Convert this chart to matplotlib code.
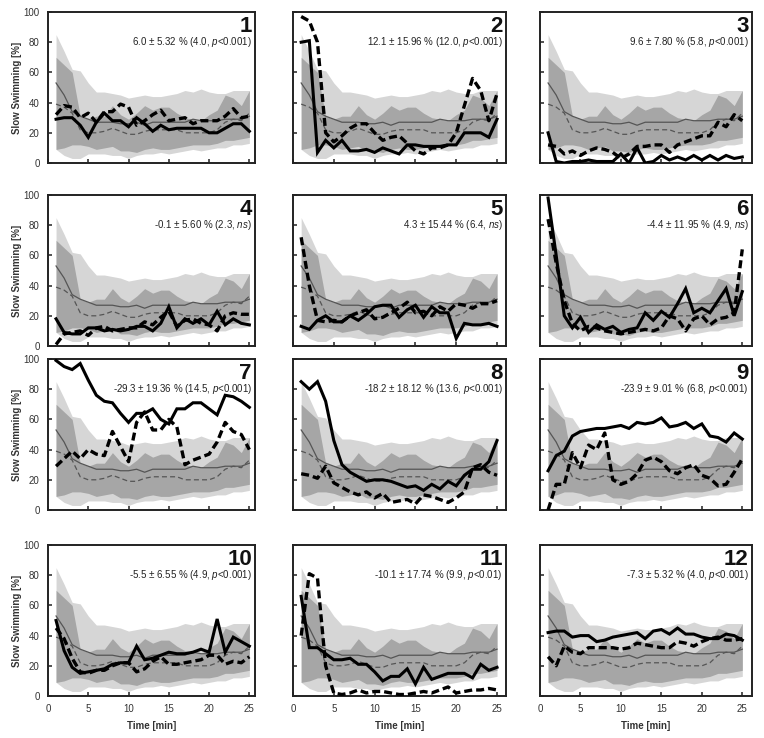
import matplotlib
matplotlib.use("Agg")
import matplotlib.pyplot as plt
import numpy as np

plt.rcParams['font.family'] = ['Liberation Sans', 'DejaVu Sans']
plt.rcParams['mathtext.fontset'] = 'custom'
plt.rcParams['mathtext.rm'] = 'Liberation Sans'
plt.rcParams['mathtext.it'] = 'Liberation Sans:italic'

minutes = list(range(1, 26))

# reference distribution (same in every panel)
light_hi = [85, 74, 62, 61, 53, 47, 47, 46, 45, 43, 44, 45, 44, 44, 45, 46, 48, 47, 49, 47, 46, 46, 48, 48, 48]
light_lo = [9, 5, 3, 3, 6, 6, 6, 5, 5, 3, 5, 6, 6, 7, 6, 7, 8, 9, 8, 9, 10, 10, 12, 12, 13]
dark_hi = [70, 65, 60, 31, 29, 31, 31, 38, 32, 29, 33, 38, 35, 37, 37, 33, 30, 29, 28, 32, 35, 45, 43, 38, 48]
dark_lo = [9, 10, 12, 12, 11, 9, 10, 11, 8, 8, 7, 9, 10, 9, 9, 10, 11, 12, 12, 12, 13, 15, 15, 16, 17]
ref_solid = [53, 45, 34, 31, 29, 27, 27, 27, 26, 26, 27, 25, 27, 27, 27, 27, 27, 29, 28, 28, 28, 29, 29, 29, 31]
ref_dashed = [39, 37, 33, 22, 20, 20, 21, 23, 21, 19, 19, 21, 22, 22, 22, 22, 20, 20, 20, 20, 22, 27, 29, 28, 33]

p1_solid = [29, 30, 30, 25, 17, 27, 33, 28, 28, 24, 30, 26, 21, 25, 22, 23, 23, 23, 23, 20, 20, 23, 26, 26, 21]
p1_dashed = [32, 38, 37, 30, 33, 27, 34, 34, 39, 37, 25, 28, 32, 35, 28, 29, 30, 26, 28, 28, 28, 31, 36, 30, 31]
p2_solid = [80, 81, 7, 15, 10, 15, 8, 8, 9, 7, 10, 8, 6, 12, 12, 11, 11, 11, 12, 12, 20, 20, 20, 17, 29]
p2_dashed = [97, 94, 80, 20, 14, 18, 23, 26, 26, 20, 15, 17, 18, 13, 8, 6, 10, 10, 12, 20, 38, 56, 48, 28, 46]
p3_solid = [20, 1, 0, 1, 1, 2, 1, 1, 1, 6, 0, 10, 0, 1, 5, 2, 4, 2, 5, 2, 5, 2, 5, 3, 4]
p3_dashed = [12, 11, 6, 8, 5, 8, 10, 9, 7, 3, 6, 11, 11, 12, 12, 7, 12, 14, 16, 18, 18, 27, 24, 32, 28]
p4_solid = [18, 9, 8, 8, 12, 12, 10, 11, 10, 11, 13, 13, 10, 15, 26, 12, 18, 15, 18, 14, 23, 14, 18, 15, 14]
p4_dashed = [1, 8, 9, 10, 7, 12, 13, 10, 11, 12, 12, 16, 14, 19, 23, 13, 17, 18, 15, 14, 10, 20, 22, 21, 21]
p5_solid = [13, 11, 17, 20, 16, 16, 20, 17, 21, 26, 27, 27, 19, 24, 27, 19, 26, 22, 22, 5, 15, 14, 14, 15, 13]
p5_dashed = [72, 40, 17, 16, 17, 16, 20, 22, 24, 18, 19, 22, 25, 29, 22, 23, 20, 26, 23, 28, 27, 25, 28, 28, 30]
p6_solid = [98, 60, 20, 12, 19, 9, 14, 11, 13, 9, 11, 12, 22, 17, 23, 19, 28, 38, 22, 25, 22, 30, 38, 20, 36]
p6_dashed = [84, 55, 30, 15, 10, 13, 12, 10, 9, 8, 9, 10, 11, 10, 12, 20, 18, 10, 18, 20, 14, 18, 19, 22, 64]
p7_solid = [99, 95, 93, 97, 86, 76, 72, 71, 64, 58, 64, 64, 67, 60, 57, 67, 67, 71, 71, 67, 63, 76, 75, 72, 68]
p7_dashed = [29, 34, 39, 34, 40, 37, 36, 52, 42, 32, 58, 65, 53, 53, 60, 55, 30, 33, 35, 37, 45, 58, 52, 50, 40]
p8_solid = [85, 80, 85, 72, 46, 30, 25, 22, 19, 20, 20, 19, 17, 15, 16, 13, 17, 14, 19, 16, 23, 27, 27, 32, 46]
p8_dashed = [24, 23, 21, 29, 18, 15, 12, 10, 12, 8, 11, 5, 6, 7, 4, 10, 9, 7, 5, 8, 12, 28, 30, 25, 23]
p9_solid = [26, 36, 39, 49, 52, 53, 54, 54, 55, 56, 54, 58, 57, 58, 61, 55, 56, 58, 54, 57, 49, 48, 45, 51, 47]
p9_dashed = [0, 17, 17, 38, 28, 43, 40, 51, 20, 17, 19, 24, 33, 35, 32, 26, 24, 28, 30, 23, 21, 16, 17, 25, 34]
p10_solid = [50, 30, 19, 15, 16, 17, 18, 21, 22, 22, 33, 24, 25, 27, 29, 28, 28, 29, 31, 29, 51, 29, 39, 36, 33]
p10_dashed = [45, 38, 25, 16, 15, 17, 17, 20, 22, 22, 16, 18, 23, 26, 21, 21, 22, 23, 24, 27, 27, 21, 23, 22, 26]
p11_solid = [66, 32, 32, 28, 24, 24, 25, 21, 21, 16, 10, 13, 13, 18, 8, 19, 11, 13, 15, 15, 15, 12, 21, 17, 19]
p11_dashed = [40, 81, 78, 20, 2, 1, 2, 4, 2, 3, 3, 2, 1, 1, 2, 3, 2, 4, 6, 2, 3, 4, 4, 5, 4]
p12_solid = [42, 43, 43, 39, 40, 40, 36, 37, 39, 40, 41, 42, 38, 43, 44, 41, 45, 41, 41, 39, 38, 38, 41, 40, 37]
p12_dashed = [26, 20, 33, 29, 28, 32, 32, 32, 32, 31, 32, 35, 34, 33, 32, 32, 36, 35, 33, 36, 38, 39, 37, 37, 38]

panel_labels = ["1", "2", "3", "4", "5", "6", "7", "8", "9", "10", "11", "12"]
diff_mean = ["6.0", "12.1", "9.6", "-0.1", "4.3", "-4.4", "-29.3", "-18.2", "-23.9", "-5.5", "-10.1", "-7.3"]
diff_sd = ["5.32", "15.96", "7.80", "5.60", "15.44", "11.95", "19.36", "18.12", "9.01", "6.55", "17.74", "5.32"]
crit = ["4.0", "12.0", "5.8", "2.3", "6.4", "4.9", "14.5", "13.6", "6.8", "4.9", "9.9", "4.0"]
pvals = ["p<0.001", "p<0.001", "p<0.001", "ns", "ns", "ns", "p<0.001", "p<0.001", "p<0.001", "p<0.001", "p<0.01", "p<0.001"]

solids = [p1_solid, p2_solid, p3_solid, p4_solid, p5_solid, p6_solid,
          p7_solid, p8_solid, p9_solid, p10_solid, p11_solid, p12_solid]
dasheds = [p1_dashed, p2_dashed, p3_dashed, p4_dashed, p5_dashed, p6_dashed,
           p7_dashed, p8_dashed, p9_dashed, p10_dashed, p11_dashed, p12_dashed]

W, H = 764, 738
fig = plt.figure(figsize=(W / 100, H / 100), dpi=100)

col_left = [48, 293, 540]
col_right = [255, 506, 752]
col_xmax = [25.7, 26.1, 26.2]
row_top = [12, 195, 359, 545]
row_bot = [163, 346, 510, 696]

light_c = "#d6d6d6"
dark_c = "#a6a6a6"
ref_c = "#555555"
tick_c = "#333333"

for i in range(12):
    r, c = divmod(i, 3)
    l, rr = col_left[c], col_right[c]
    t, b = row_top[r], row_bot[r]
    ax = fig.add_axes([l / W, 1 - b / H, (rr - l) / W, (b - t) / H])
    ax.fill_between(minutes, light_lo, light_hi, color=light_c, lw=0, zorder=1)
    ax.fill_between(minutes, dark_lo, dark_hi, color=dark_c, lw=0, zorder=2)
    ax.plot(minutes, ref_solid, color=ref_c, lw=0.9, zorder=3)
    ax.plot(minutes, ref_dashed, color=ref_c, lw=0.9, ls=(0, (4, 2.5)), zorder=3)
    ax.plot(minutes, solids[i], color="black", lw=2.2, zorder=5,
            solid_joinstyle="miter")
    ax.plot(minutes, dasheds[i], color="black", lw=2.4, ls=(0, (2.4, 1.2)), zorder=4)
    ax.set_xlim(0, col_xmax[c])
    ax.set_ylim(0, 100)
    ax.set_xticks([0, 5, 10, 15, 20, 25])
    ax.set_yticks([0, 20, 40, 60, 80, 100])
    ax.tick_params(direction="in", length=3, width=1.2, color=tick_c,
                   labelsize=7, labelcolor="#333333")
    ax.tick_params(axis="y", pad=6)
    ax.tick_params(axis="x", pad=6)
    for s in ax.spines.values():
        s.set_linewidth(1.4)
        s.set_color("#222222")
    if c == 0:
        ax.set_ylabel("Slow Swimming [%]", fontsize=7, fontweight="bold",
                      color="#333333", labelpad=1)
    else:
        ax.set_yticklabels([])
    if r == 3:
        ax.set_xlabel("Time [min]", fontsize=7, fontweight="bold",
                      color="#333333", labelpad=5)
    else:
        ax.set_xticklabels([])
    ax.text(0.985, 0.975, panel_labels[i], transform=ax.transAxes,
            ha="right", va="top", fontsize=16, fontweight="bold", color="#111111")
    pv = pvals[i]
    if pv == "ns":
        ptxt = r"$\mathit{ns}$"
    else:
        ptxt = r"$\mathit{p}$" + pv[1:]
    stat = f"{diff_mean[i]} \u00b1 {diff_sd[i]} % ({crit[i]}, " + ptxt + ")"
    ax.text(0.985, 0.80, stat, transform=ax.transAxes, ha="right", va="center",
            fontsize=7, color="#222222")

fig.savefig("out.png", dpi=100)
